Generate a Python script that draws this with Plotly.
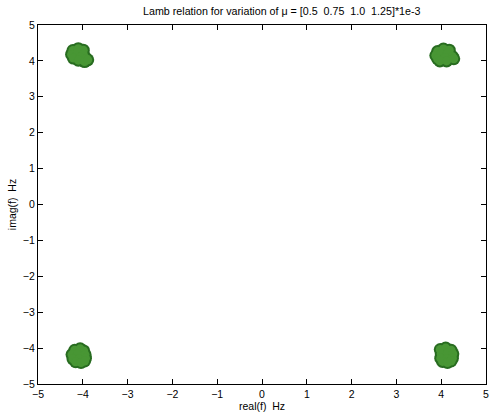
import plotly.graph_objects as go

# Roots of the Lamb relation for each damping value mu (x1e-3), one list per mu
mu_labels = ["0.5", "0.75", "1.0", "1.25"]

real_parts = {
    "0.5":  [-4.22, -4.10, -3.99, 3.92, 4.05, 4.18, -4.18, -4.06, -3.98, 3.98, 4.10, 4.22],
    "0.75": [-4.25, -4.12, -3.99, 3.88, 4.00, 4.14, -4.24, -4.12, -3.95, 4.00, 4.14, 4.26],
    "1.0":  [-4.21, -4.06, -3.93, 3.92, 4.08, 4.25, -4.22, -4.08, -3.94, 3.99, 4.12, 4.25],
    "1.25": [-4.10, -3.96, -3.89, 3.97, 4.12, 4.28, -4.16, -4.04, -3.96, 4.03, 4.14, 4.22],
}
imag_parts = {
    "0.5":  [4.29, 4.34, 4.30, 4.26, 4.33, 4.30, -4.06, -4.02, -4.08, -4.04, -4.00, -4.06],
    "0.75": [4.18, 4.23, 4.19, 4.15, 4.20, 4.22, -4.18, -4.16, -4.18, -4.16, -4.14, -4.16],
    "1.0":  [4.08, 4.10, 4.07, 4.06, 4.09, 4.12, -4.30, -4.30, -4.28, -4.28, -4.30, -4.28],
    "1.25": [4.02, 3.98, 4.03, 4.00, 4.00, 4.06, -4.38, -4.40, -4.36, -4.37, -4.40, -4.36],
}

title_text = "Lamb relation for variation of \u03bc = [0.5  0.75  1.0  1.25]*1e-3"
tick_vals = [-5, -4, -3, -2, -1, 0, 1, 2, 3, 4, 5]

FONT = "Liberation Sans, Arial"

fig = go.Figure()

# dark rim underneath, lighter fill on top
for size, colour in [(13, "rgb(40,108,32)"), (9, "rgb(72,150,52)")]:
    for mu in mu_labels:
        fig.add_trace(go.Scatter(
            x=real_parts[mu], y=imag_parts[mu], mode="markers",
            marker=dict(size=size, color=colour, line=dict(width=0)),
            name="\u03bc = " + mu + "e-3", showlegend=False, hoverinfo="x+y",
        ))

axis_style = dict(
    range=[-5, 5], tickvals=tick_vals, ticks="inside", ticklen=5, tickwidth=1,
    tickcolor="black", showline=True, linecolor="black", linewidth=1.2,
    mirror="ticks", showgrid=False, zeroline=False, ticklabeloverflow="allow",
    tickfont=dict(family=FONT, size=10.5, color="black"),
)

fig.update_layout(
    width=490, height=412,
    margin=dict(l=38, r=1, t=25, b=28),
    paper_bgcolor="white", plot_bgcolor="white",
    title=dict(text=title_text, x=0.575, xanchor="center", y=0.972, yanchor="middle",
               font=dict(family=FONT, size=10.7, color="black")),
    xaxis=dict(axis_style, title=dict(text="real(f)  Hz", standoff=1,
               font=dict(family=FONT, size=10.5, color="black"))),
    yaxis=dict(axis_style, title=dict(text="imag(f)  Hz", standoff=4,
               font=dict(family=FONT, size=10.5, color="black"))),
)

fig.write_html("out.html")
